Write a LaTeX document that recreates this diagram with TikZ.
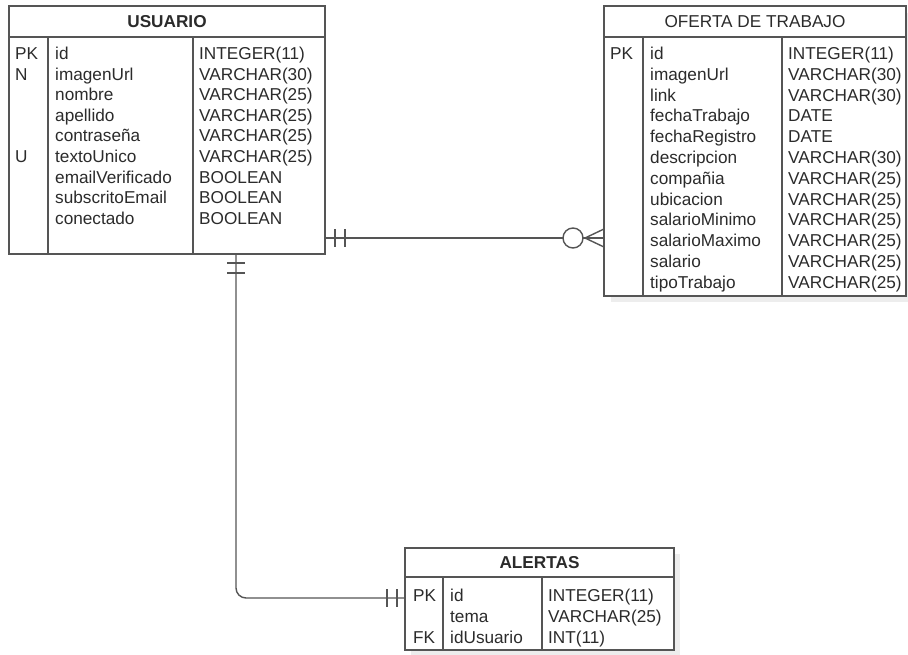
\documentclass[tikz,border=0pt]{standalone}
\usepackage{fontspec}
\setmainfont{Liberation Sans}
\newcommand{\rowfont}{\fontsize{17.2}{20.6}\selectfont}
\definecolor{linec}{HTML}{555555}
\definecolor{txtc}{HTML}{2B2B2B}
\definecolor{shadc}{HTML}{EDEDED}
\begin{document}
\begin{tikzpicture}[x=1pt,y=-1pt,
  tbl/.style={draw=linec, line width=1.4pt, fill=white, anchor=north west, inner sep=0pt, outer sep=0pt},
  shad/.style={fill=shadc, draw=none},
  sep/.style={draw=linec, line width=1.4pt},
  cell/.style={anchor=base west, inner sep=0pt, font=\rowfont, text=txtc},
  hdr/.style={anchor=base, inner sep=0pt, font=\rowfont, text=txtc},
  conn/.style={draw=linec, line width=1.4pt},
  tick/.style={draw=linec, line width=1.4pt}]
\fill[white] (0,0) rectangle (908,654);
\useasboundingbox (0,0) rectangle (908,654);
% shadows
\fill[shad] (611,13) rectangle (912,302);
\fill[shad] (411,554) rectangle (680,656);
% tables
\node[tbl, minimum width=316pt, minimum height=248pt] (usuario) at (9,6) {};
\node[tbl, minimum width=302pt, minimum height=290pt] (oferta) at (604,6) {};
\node[tbl, minimum width=269pt, minimum height=102pt] (alertas) at (405,548) {};
% USUARIO structure
\draw[sep] (usuario.west |- 0,37) -- (usuario.east |- 0,37);
\draw[sep] (48,37) -- (48,254);
\draw[sep] (193,37) -- (193,254);
\node[hdr, font=\rowfont\bfseries] (uh) at (167,27.5) {USUARIO};
\node[cell] (uk1) at (15,59.5) {PK};
\node[cell] (uk2) at (15,80.1) {N};
\node[cell] (uk6) at (15,162.5) {U};
\foreach \t [count=\i] in {id,imagenUrl,nombre,apellido,contraseña,textoUnico,emailVerificado,subscritoEmail,conectado}
  \node[cell] (un\i) at (55,{59.5+20.6*(\i-1)}) {\t};
\foreach \t [count=\i] in {INTEGER(11),VARCHAR(30),VARCHAR(25),VARCHAR(25),VARCHAR(25),VARCHAR(25),BOOLEAN,BOOLEAN,BOOLEAN}
  \node[cell] (ut\i) at (199,{59.5+20.6*(\i-1)}) {\t};
% OFERTA structure
\draw[sep] (oferta.west |- 0,37) -- (oferta.east |- 0,37);
\draw[sep] (643,37) -- (643,296);
\draw[sep] (782,37) -- (782,296);
\node[hdr] (oh) at (755,27.5) {OFERTA DE TRABAJO};
\node[cell] (ok1) at (610,59.5) {PK};
\foreach \t [count=\i] in {id,imagenUrl,link,fechaTrabajo,fechaRegistro,descripcion,compañia,ubicacion,salarioMinimo,salarioMaximo,salario,tipoTrabajo}
  \node[cell] (on\i) at (650,{59.5+20.8*(\i-1)}) {\t};
\foreach \t [count=\i] in {INTEGER(11),VARCHAR(30),VARCHAR(30),DATE,DATE,VARCHAR(30),VARCHAR(25),VARCHAR(25),VARCHAR(25),VARCHAR(25),VARCHAR(25),VARCHAR(25)}
  \node[cell] (ot\i) at (788,{59.5+20.8*(\i-1)}) {\t};
% ALERTAS structure
\draw[sep] (alertas.west |- 0,577) -- (alertas.east |- 0,577);
\draw[sep] (443,577) -- (443,650);
\draw[sep] (542,577) -- (542,650);
\node[hdr, font=\rowfont\bfseries] (ah) at (539.5,568) {ALERTAS};
\node[cell] (ak1) at (413,601.5) {PK};
\node[cell] (ak3) at (413,643) {FK};
\foreach \t [count=\i] in {id,tema,idUsuario}
  \node[cell] (an\i) at (450,{601.5+20.75*(\i-1)}) {\t};
\foreach \t [count=\i] in {INTEGER(11),VARCHAR(25),INT(11)}
  \node[cell] (at\i) at (548,{601.5+20.75*(\i-1)}) {\t};
% connectors
\coordinate (yA) at (0,238);
\coordinate (xB) at (236,0);
\coordinate (yB) at (0,598);
\draw[conn] (usuario.east |- yA) -- (oferta.west |- yA);
\draw[conn, rounded corners=10pt] (usuario.south -| xB) |- (alertas.west |- yB);
% markers connector 1
\draw[tick] (335,229) -- (335,247);
\draw[tick] (345,229) -- (345,247);
\draw[tick, fill=white] (573,238) circle (10pt);
\draw[tick] (604,229) -- (585,238) -- (604,247);
\draw[tick] (585,238) -- (604,238);
% markers connector 2
\draw[tick] (227,263) -- (245,263);
\draw[tick] (227,273) -- (245,273);
\draw[tick] (387,589) -- (387,607);
\draw[tick] (397,589) -- (397,607);
\end{tikzpicture}
\end{document}
